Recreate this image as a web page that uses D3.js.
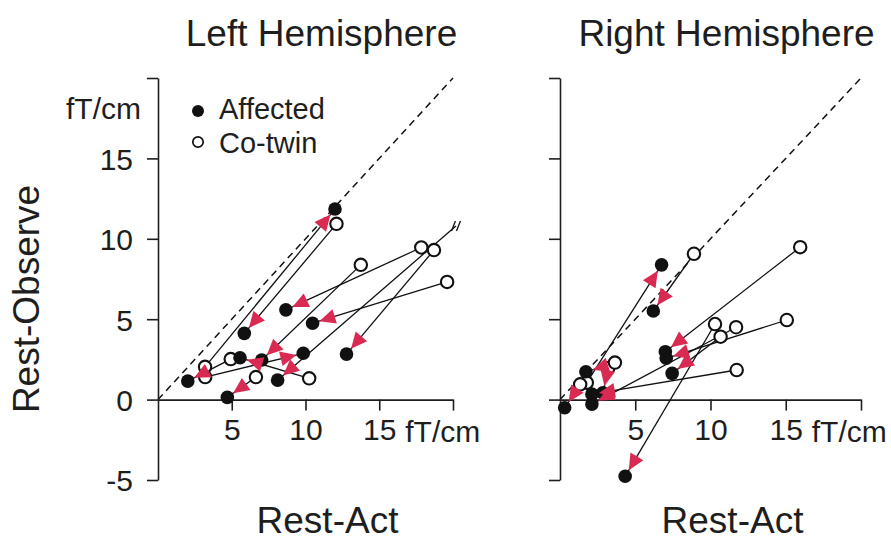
<!DOCTYPE html>
<html>
<head>
<meta charset="utf-8">
<script src="https://cdn.jsdelivr.net/npm/d3@7"></script>
<style>
  body { margin: 0; background: #fff; }
  text { font-family: "Liberation Sans", Arial, sans-serif; fill: #1e1e1e; }
</style>
</head>
<body>
<svg id="chart" width="891" height="541"></svg>
<script>
// values, in fT/cm: [Rest-Act, Rest-Observe]
// each co-twin is paired with the affected twin at the same index
var leftCotwin = [[3.19, 2.04], [12.1, 10.93], [17.85, 9.46], [19.6, 7.32], [18.71, 9.3],
                  [13.75, 8.38], [3.2, 1.4], [4.93, 2.52], [10.25, 1.32], [6.64, 1.4], null];
var leftAffected = [[12.0, 11.85], [5.85, 4.12], [8.67, 5.58], [10.48, 4.75], [12.78, 2.83],
                    [7.03, 2.46], [9.85, 2.88], [2.02, 1.15], [5.56, 2.6], [4.7, 0.14], [8.11, 1.21]];
// the last left co-twin is off scale: its line runs out to this break point
var leftBreak = [20.2, 10.8];

var rightCotwin = [[1.78, 1.05], [8.9, 9.07], [15.96, 9.48], [15.07, 4.95], [10.67, 3.91],
                   [11.74, 1.84], [11.7, 4.5], [3.2, 1.95], [3.65, 2.3], [1.34, 0.95], [10.3, 4.7]];
var rightAffected = [[6.75, 8.38], [6.2, 5.51], [7.0, 2.98], [7.06, 2.57], [7.45, 1.63],
                     [2.12, 0.34], [2.12, -0.28], [2.85, 0.42], [1.72, 1.73], [0.31, -0.51], [4.33, -4.77]];

var yTicks = [-5, 0, 5, 10, 15, 20];
var xTicks = [5, 10, 15, 20];
var titles = ["Left Hemisphere", "Right Hemisphere"];
var xLabel = "Rest-Act";
var yLabel = "Rest-Observe";
var unitLabel = "fT/cm";
var legendLabels = ["Affected", "Co-twin"];

var svg = d3.select("#chart");
var red = "#d92a52";
var r = 6.8;

var y = d3.scaleLinear().domain([-5, 20]).range([480, 78]);

function drawPanel(x, cotwin, affected, title, showYLabels, breakPt) {
  var g = svg.append("g");

  // dashed identity line
  g.append("line")
    .attr("x1", x(0)).attr("y1", y(0))
    .attr("x2", x(20)).attr("y2", y(20))
    .attr("stroke", "#111").attr("stroke-width", 1.5)
    .attr("stroke-dasharray", "7,5");

  var yAxis = d3.axisLeft(y).tickValues(yTicks).tickSize(11).tickSizeOuter(0).tickPadding(14)
    .tickFormat(function(d) { return (showYLabels && d != 20) ? d : ""; });
  var gy = g.append("g").attr("transform", "translate(" + x(0) + ",0)").call(yAxis);

  var xAxis = d3.axisBottom(x).tickValues(xTicks).tickSize(11).tickSizeOuter(0).tickPadding(8)
    .tickFormat(function(d) { return d == 20 ? "" : d; });
  var gx = g.append("g").attr("transform", "translate(0," + y(0) + ")").call(xAxis);

  [gx, gy].forEach(function(a) {
    a.attr("font-size", null).attr("font-family", null);
    a.selectAll("path, line").attr("stroke", "#1e1e1e").attr("stroke-width", 1.6);
    a.selectAll("text").style("font-size", "30px").attr("fill", "#1e1e1e");
  });
  gy.selectAll("text").attr("dy", "0.36em");

  g.append("text").attr("x", x(15) + 26).attr("y", y(0) + 42)
    .style("font-size", "30px").text(unitLabel);

  g.append("text").attr("x", (x(0) + x(20)) / 2 + 16).attr("y", 46)
    .attr("text-anchor", "middle").style("font-size", "37px").text(title);
  g.append("text").attr("x", (x(0) + x(20)) / 2 + 22).attr("y", 533)
    .attr("text-anchor", "middle").style("font-size", "37px").text(xLabel);

  // connecting lines
  affected.forEach(function(a, i) {
    var c = cotwin[i] || breakPt;
    g.append("line")
      .attr("x1", x(c[0])).attr("y1", y(c[1]))
      .attr("x2", x(a[0])).attr("y2", y(a[1]))
      .attr("stroke", "#111").attr("stroke-width", 1.3);
  });

  // break mark for the off-scale co-twin
  if (breakPt) {
    var bx = x(breakPt[0]), by = y(breakPt[1]);
    [-2.5, 2.5].forEach(function(o) {
      g.append("line")
        .attr("x1", bx + o - 2).attr("y1", by + 5)
        .attr("x2", bx + o + 2).attr("y2", by - 5)
        .attr("stroke", "#111").attr("stroke-width", 1.3);
    });
  }

  g.selectAll(".cotwin").data(cotwin.filter(function(d) { return d; })).enter()
    .append("circle").attr("class", "cotwin")
    .attr("cx", function(d) { return x(d[0]); })
    .attr("cy", function(d) { return y(d[1]); })
    .attr("r", r - 0.6)
    .attr("fill", "#fff").attr("stroke", "#111").attr("stroke-width", 2.1);

  g.selectAll(".affected").data(affected).enter()
    .append("circle").attr("class", "affected")
    .attr("cx", function(d) { return x(d[0]); })
    .attr("cy", function(d) { return y(d[1]); })
    .attr("r", r)
    .attr("fill", "#111");

  // arrowheads pointing at the affected twin
  affected.forEach(function(a, i) {
    var c = cotwin[i] || breakPt;
    var ax = x(a[0]), ay = y(a[1]), cx = x(c[0]), cy = y(c[1]);
    var dx = ax - cx, dy = ay - cy, len = Math.sqrt(dx * dx + dy * dy);
    var ux = dx / len, uy = dy / len;
    var tipX = ax - ux * (r + 0.3), tipY = ay - uy * (r + 0.3);
    var baseX = tipX - ux * 16, baseY = tipY - uy * 16;
    var pts = [[tipX, tipY],
               [baseX - uy * 7.5, baseY + ux * 7.5],
               [baseX + uy * 7.5, baseY - ux * 7.5]];
    g.append("path").attr("d", "M" + pts.join("L") + "Z").attr("fill", red);
  });

  return g;
}

var xLeft = d3.scaleLinear().domain([0, 20]).range([158, 453]);
var xRight = d3.scaleLinear().domain([0, 20]).range([560, 861]);

drawPanel(xLeft, leftCotwin, leftAffected, titles[0], true, leftBreak);
drawPanel(xRight, rightCotwin, rightAffected, titles[1], false, null);

// unit label on the left y axis
svg.append("text").attr("x", 141).attr("y", 119).attr("text-anchor", "end")
  .style("font-size", "30px").text(unitLabel);

// y axis title
svg.append("text")
  .attr("transform", "translate(39,299) rotate(-90)")
  .attr("text-anchor", "middle").style("font-size", "37px").text(yLabel);

// legend
var legend = svg.append("g").attr("transform", "translate(198,0)");
legend.append("circle").attr("cx", 0).attr("cy", 111).attr("r", 6).attr("fill", "#111");
legend.append("circle").attr("cx", 0).attr("cy", 142).attr("r", 5.2)
  .attr("fill", "#fff").attr("stroke", "#111").attr("stroke-width", 1.7);
legend.selectAll(".lab").data(legendLabels).enter().append("text")
  .attr("x", 21).attr("y", function(d, i) { return 119 + i * 34; })
  .style("font-size", "29px").text(function(d) { return d; });
</script>
</body>
</html>
